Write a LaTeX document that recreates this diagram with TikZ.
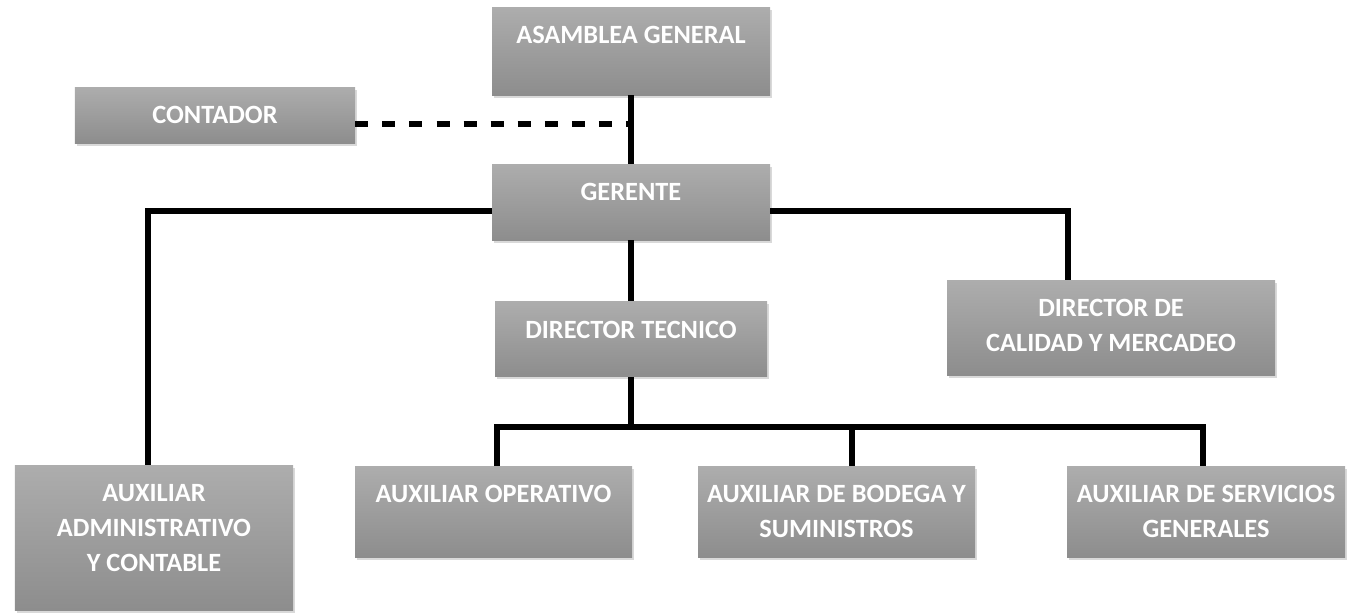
\documentclass[tikz,border=0pt]{standalone}
\usepackage{fontspec}
\setmainfont{Carlito}
\usetikzlibrary{positioning,shadows}
\definecolor{boxtop}{RGB}{173,173,173}
\definecolor{boxbottom}{RGB}{141,141,141}

\begin{document}
\begin{tikzpicture}[x=0.2mm, y=-0.2mm,
    orgbox/.style={rectangle, top color=boxtop, bottom color=boxbottom, draw=none, inner sep=0pt,
        drop shadow={opacity=0.3, shadow xshift=1pt, shadow yshift=-1.5pt}},
    boxtext/.style={text=white, font=\bfseries\fontsize{15}{20}\selectfont, align=center,
        anchor=north, inner sep=0pt, yshift=-11pt},
    link/.style={line width=3.6pt},
    dashlink/.style={line width=3.6pt, dash pattern=on 7.4pt off 8pt}]
    \useasboundingbox (0,0) rectangle (1370,614);

    % upper levels
    \node[orgbox, minimum width=5.56cm, minimum height=1.76cm, label={[boxtext]north:ASAMBLEA GENERAL}] (asamblea) at (631,51) {};
    \node[orgbox, minimum width=5.6cm, minimum height=1.12cm, label={[boxtext]north:CONTADOR}] (contador) at (215,115) {};
    \node[orgbox, minimum width=5.56cm, minimum height=1.52cm, label={[boxtext]north:GERENTE}] (gerente) at (631,202) {};
    \node[orgbox, minimum width=5.44cm, minimum height=1.5cm, label={[boxtext]north:DIRECTOR TECNICO}] (dirtec) at (631,339) {};
    \node[orgbox, minimum width=6.56cm, minimum height=1.9cm, label={[boxtext]north:DIRECTOR DE\\CALIDAD Y MERCADEO}] (dircal) at (1111,327.5) {};

    % auxiliares
    \node[orgbox, minimum width=5.56cm, minimum height=2.9cm, label={[boxtext]north:AUXILIAR\\ADMINISTRATIVO\\Y CONTABLE}] (auxadm) at (154,537.5) {};
    \node[orgbox, minimum width=5.54cm, minimum height=1.82cm, label={[boxtext]north:AUXILIAR OPERATIVO}] (auxop) at (493.5,511.5) {};
    \node[orgbox, minimum width=5.54cm, minimum height=1.82cm, label={[boxtext]north:AUXILIAR DE BODEGA Y\\SUMINISTROS}] (auxbod) at (836.5,511.5) {};
    \node[orgbox, minimum width=5.56cm, minimum height=1.82cm, label={[boxtext]north:AUXILIAR DE SERVICIOS\\GENERALES}] (auxser) at (1206,511.5) {};

    \coordinate (contadorout) at ([yshift=-0.18cm]contador.east);
    \coordinate (gerenteleft) at ([yshift=-0.18cm]gerente.west);
    \coordinate (gerenteright) at ([yshift=-0.18cm]gerente.east);
    \coordinate (admin) at ([xshift=-0.12cm]auxadm.north);
    \coordinate (calin) at ([xshift=-0.86cm]dircal.north);
    \coordinate (opin) at ([xshift=0.07cm]auxop.north);
    \coordinate (bodin) at ([xshift=0.31cm]auxbod.north);
    \coordinate (serin) at ([xshift=-0.06cm]auxser.north);
    \coordinate (split) at (631,427);

    \draw[link] (asamblea) -- (gerente);
    \draw[dashlink] (contadorout) -- (contadorout -| asamblea.south);
    \draw[link] (gerenteleft) -| (admin);
    \draw[link] (gerenteright) -| (calin);
    \draw[link] (gerente) -- (dirtec);
    \draw[link] (dirtec.south) -- (split);
    \draw[link] (opin) |- (split);
    \draw[link] (bodin) |- (split);
    \draw[link] (serin) |- (split);
\end{tikzpicture}
\end{document}
